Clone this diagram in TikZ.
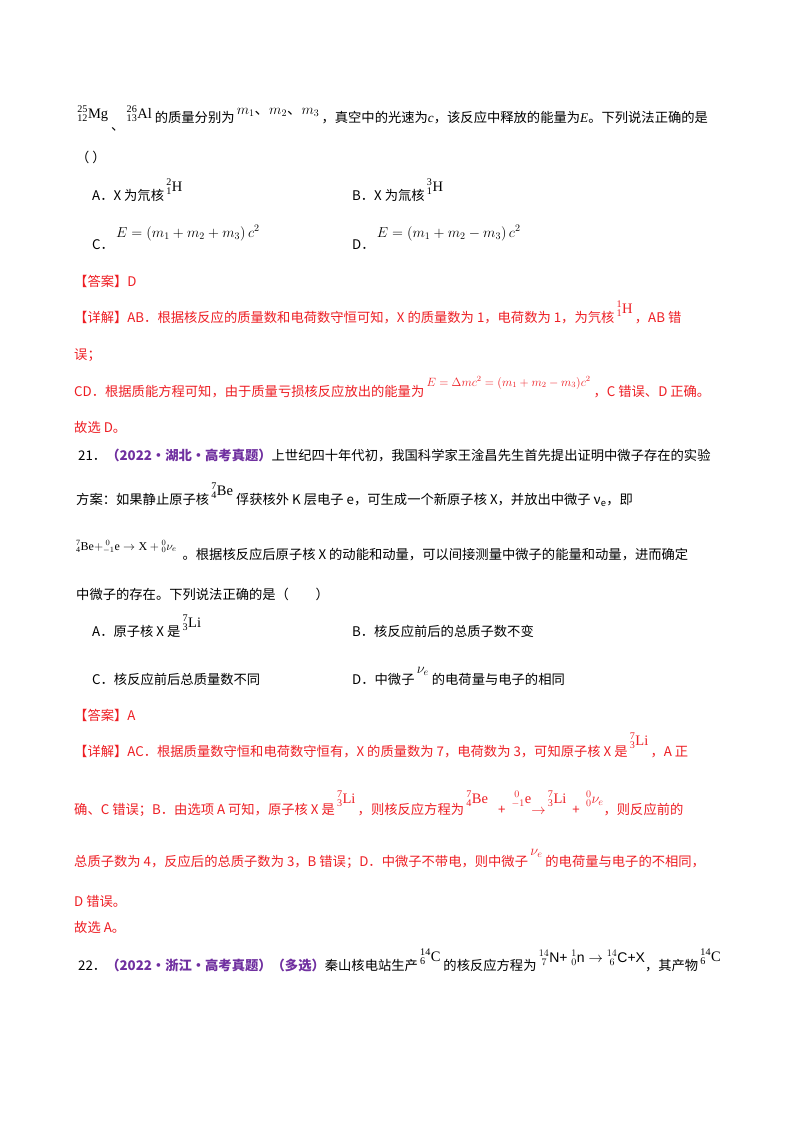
\documentclass[tikz,border=0pt]{standalone}
\usepackage{fontspec}
\setmainfont{Liberation Serif}
\setsansfont{Liberation Sans}
\newfontfamily\cjk{Noto Sans CJK SC}
\definecolor{ansred}{RGB}{238,30,36}
\definecolor{srcpurple}{RGB}{112,48,160}
\newcommand{\nuc}[3]{$\mathrm{{}^{#1}_{#2}#3}$}
\newcommand{\rz}[2][7pt]{\,\raisebox{#1}{\fontsize{14.5}{16}\rmfamily #2}}
\tikzset{
  ln/.style={anchor=base west,inner sep=0pt,font=\fontsize{13.3}{16}\cjk},
  rl/.style={ln,text=ansred},
}
\begin{document}
\begin{tikzpicture}[x=1pt,y=-1pt]
\useasboundingbox (0,0) rectangle (800,1132);
\fill[white] (0,0) rectangle (800,1132);
% question 20 (end)
\node[ln] (l1) at (75,122) {\rz[4pt]{\nuc{25}{12}{Mg}}\raisebox{-8pt}{\ 、}\rz[4pt]{\nuc{26}{13}{Al}}\ 的质量分别为\rz[8pt]{$m_1$\cjk 、$m_2$\cjk 、$m_3$}\,，真空中的光速为{\rmfamily\itshape c}，该反应中释放的能量为{\rmfamily\itshape E}。下列说法正确的是};
\node[ln] (par) at (76,162) {（\ ）};
\node[ln] (oa) at (92,200) {A．X 为氘核\rz[9pt]{\nuc{2}{1}{H}}};
\node[ln] (ob) at (352,200) {B．X 为氚核\rz[9pt]{\nuc{3}{1}{H}}};
\node[ln] (oc) at (92,249) {C．\rz[12pt]{$E=\left(m_1+m_2+m_3\right)c^2$}};
\node[ln] (od) at (352,249) {D．\rz[12pt]{$E=\left(m_1+m_2-m_3\right)c^2$}};
% answer 20
\node[rl] (ans1) at (74,286) {【答案】D};
\node[rl] (ex1) at (74,322) {【详解】AB．根据核反应的质量数和电荷数守恒可知，X 的质量数为 1，电荷数为 1，为氕核\rz[9pt]{\nuc{1}{1}{H}}\,，AB 错};
\node[rl] (ex1c) at (74,359) {误；};
\node[rl] (ex1d) at (74,396) {CD．根据质能方程可知，由于质量亏损核反应放出的能量为\rz[10pt]{\fontsize{11.5}{13}\selectfont$E=\Delta mc^2=(m_1+m_2-m_3)c^2$}\ ，C 错误、D 正确。};
\node[rl] (ex1g) at (74,432) {故选 D。};
% question 21
\node[ln] (q21) at (78,460) {21．{\color{srcpurple}\bfseries （2022·湖北·高考真题）}上世纪四十年代初，我国科学家王淦昌先生首先提出证明中微子存在的实验};
\node[ln] (q21b) at (76,504) {方案：如果静止原子核\rz[9pt]{\nuc{7}{4}{Be}}\ 俘获核外 K 层电子 e，可生成一个新原子核 X，并放出中微子 ν\textsubscript{e}，即};
\node[ln] (q21d) at (76,559) {\raisebox{9pt}{\fontsize{12}{13}\rmfamily\nuc{7}{4}{Be}$+{}^{\;0}_{-1}\mathrm{e}\to\mathrm{X}+{}^0_0\nu_e$}\ \ 。根据核反应后原子核 X 的动能和动量，可以间接测量中微子的能量和动量，进而确定};
\node[ln] (q21e) at (76,599) {中微子的存在。下列说法正确的是（\qquad ）};
\node[ln] (pa) at (92,636) {A．原子核 X 是\rz[9pt]{\nuc{7}{3}{Li}}};
\node[ln] (pb) at (352,636) {B．核反应前后的总质子数不变};
\node[ln] (pc) at (92,684) {C．核反应前后总质量数不同};
\node[ln] (pd) at (352,684) {D．中微子\rz[11pt]{$\nu_e$}\ 的电荷量与电子的相同};
% answer 21
\node[rl] (ans2) at (74,720) {【答案】A};
\node[rl] (ex2) at (74,756) {【详解】AC．根据质量数守恒和电荷数守恒有，X 的质量数为 7，电荷数为 3，可知原子核 X 是\rz[11pt]{\nuc{7}{3}{Li}}\,，A 正};
\node[rl] (ex2c) at (74,814) {确、C 错误；B．由选项 A 可知，原子核 X 是\rz[11pt]{\nuc{7}{3}{Li}}\,，则核反应方程为\rz[11pt]{\nuc{7}{4}{Be}}\hspace{10pt}+\hspace{4pt}\rz[11pt]{${}^{\;0}_{-1}$e}$\to$\rz[11pt]{\nuc{7}{3}{Li}}\hspace{6pt}+\hspace{4pt}\rz[11pt]{${}^0_0\nu_e$}，则反应前的};
\node[rl] (ex2g) at (74,866) {总质子数为 4，反应后的总质子数为 3，B 错误；D．中微子不带电，则中微子\rz[11pt]{$\nu_e$}\ 的电荷量与电子的不相同，};
\node[rl] (ex2i) at (74,906) {D 错误。};
\node[rl] (ex2j) at (74,932) {故选 A。};
% question 22
\node[ln] (q22) at (78,970) {22．{\color{srcpurple}\bfseries （2022·浙江·高考真题）（多选）}秦山核电站生产\rz[9pt]{\nuc{14}{6}{C}}\ 的核反应方程为\,\raisebox{8pt}{\fontsize{14}{16}\sffamily ${}^{14}_{\;7}$N+ ${}^1_0$n $\rightarrow$ ${}^{14}_{\;6}$C+X}，其产物\rz[9pt]{\nuc{14}{6}{C}}};
\end{tikzpicture}
\end{document}
